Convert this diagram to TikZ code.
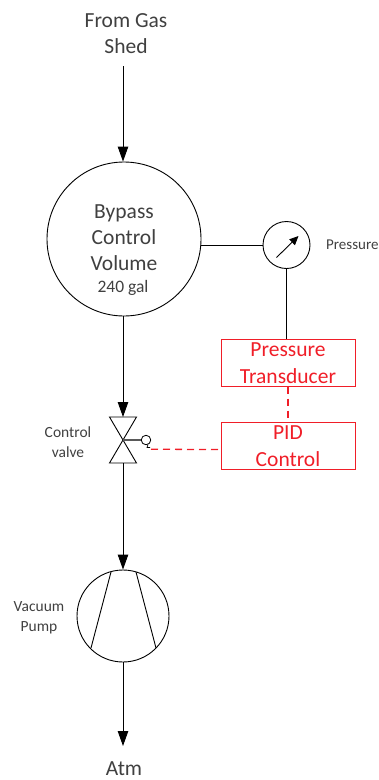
\documentclass[tikz,border=0pt]{standalone}
\usepackage{fontspec}
\setmainfont{Carlito}
\usetikzlibrary{arrows.meta}
\definecolor{redline}{RGB}{240,30,40}
\tikzset{
 lbl/.style={align=center,text=black!75,inner sep=0pt,font=\fontsize{21.5}{26}\selectfont},
 small/.style={align=center,text=black!75,inner sep=0pt,font=\fontsize{15.5}{20}\selectfont},
 ln/.style={draw=black,line width=0.9pt},
 flow/.style={ln,-{Triangle[length=15pt,width=10.5pt]}},
 redbox/.style={draw=redline,line width=0.9pt,minimum width=134pt,minimum height=46.5pt,inner sep=0pt,text=redline,align=center,font=\fontsize{21.5}{27}\selectfont},
 reddash/.style={draw=redline,line width=1.3pt,dash pattern=on 7pt off 5pt},
 vessel/.style={circle,ln,inner sep=0pt,fill=white},
}
\begin{document}
\begin{tikzpicture}[x=1pt,y=-1pt]
\useasboundingbox (0,0) rectangle (379,780);
\node[lbl] (src) at (126,34) {From Gas\\Shed};
\node[vessel,minimum size=154pt] (vol) at (124,239) {};
\node[lbl] (voltext) at (124,238) {Bypass\\Control\\Volume};
\node[small,font=\fontsize{17.5}{20}\selectfont] (gal) at (123,288) {240 gal};
\node[vessel,minimum size=47pt] (gauge) at (286.5,245) {};
\node[small,anchor=west,font=\fontsize{15}{20}\selectfont] (plabel) at (326,245) {Pressure};
\node[redbox] (pt) at (288,363) {Pressure\\Transducer};
\node[redbox] (pid) at (288,445.7) {PID\\Control};
\coordinate (vtop) at (123,417);
\coordinate (vc) at (123,440);
\coordinate (vbot) at (123,463);
\draw[ln,line join=miter] (109.5,417) -- (136.5,417) -- (109.5,463) -- (136.5,463) -- cycle;
\draw[line width=1.2pt,black!65] (vc) -- (141,440);
\node[circle,draw=black,line width=0.8pt,minimum size=9.5pt,inner sep=0pt] (act) at (146,440) {};
\draw[black,line width=0.7pt] (148,444.5) -- (147,447.5) -- (150,447.5);
\node[small] (cv) at (68,442) {Control\\valve};
\node[vessel,minimum size=92pt] (pump) at (123,616) {};
\draw[ln] (111,572) -- (91,648);
\draw[ln] (136,572) -- (156,648);
\node[small] (vp) at (39,618) {Vacuum\\Pump};
\node[lbl,anchor=base] (atm) at (124,775.5) {Atm};
\coordinate (srcEnd) at (123,66);
\coordinate (atmEnd) at (123,746);
\draw[flow] (srcEnd) -- (vol.north -| srcEnd);
\draw[flow] (vol.south -| vtop) -- (vtop);
\draw[flow] (vbot) -- (pump.north);
\draw[flow] (pump.south) -- (atmEnd);
\draw[ln] (vol.east |- gauge.west) -- (gauge.west);
\draw[ln] (gauge.south) -- (pt.north -| gauge.south);
\draw[reddash] (pt.south) -- (pid.north);
\coordinate (dashStart) at (151,449.2);
\coordinate (dashEnd) at (221,449.6);
\draw[reddash] (dashStart) -- (dashEnd);
\coordinate (needleA) at (276.5,257.5);
\coordinate (needleB) at (298.5,236);
\draw[black,line width=0.9pt,-{Triangle[length=9pt,width=8pt]}] (needleA) -- (needleB);
\end{tikzpicture}
\end{document}
